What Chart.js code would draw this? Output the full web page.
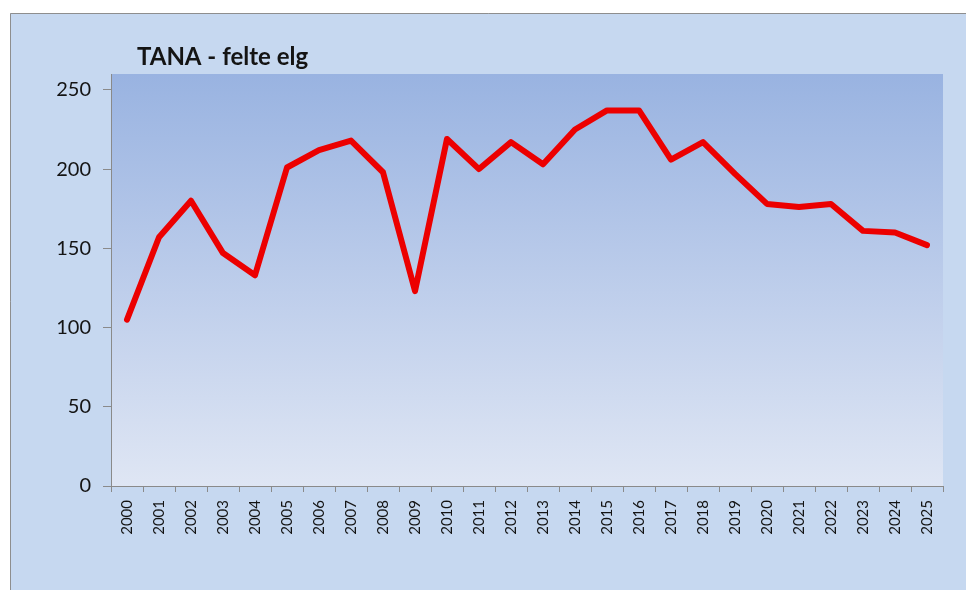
<!DOCTYPE html>
<html>
<head>
<meta charset="utf-8">
<script src="https://cdn.jsdelivr.net/npm/chart.js@4.4.1/dist/chart.umd.min.js"></script>
<style>
  html, body { margin: 0; padding: 0; background: #ffffff; }
  #wrap { width: 966px; height: 590px; position: relative; }
</style>
</head>
<body>
<div id="wrap"><canvas id="c" width="966" height="590"></canvas></div>
<script>
// ---- data ----
const titleText = 'TANA - felte elg';
const years = ['2000','2001','2002','2003','2004','2005','2006','2007','2008','2009',
               '2010','2011','2012','2013','2014','2015','2016','2017','2018','2019',
               '2020','2021','2022','2023','2024','2025'];
const felteElg = [105,157,180,147,133,201,212,218,198,123,
                  219,200,217,203,225,237,237,206,217,197,
                  178,176,178,161,160,152];
const yTicks = [0, 50, 100, 150, 200, 250];
const yMax = 260;

// ---- styling ----
const textColor = '#141414';
const axisColor = '#8a8a8a';

const backgroundPlugin = {
  id: 'backgrounds',
  beforeDraw(chart) {
    const ctx = chart.ctx;
    const W = chart.width, H = chart.height;
    const a = chart.chartArea;
    ctx.save();
    ctx.fillStyle = '#ffffff';
    ctx.fillRect(0, 0, W, H);
    // outer chart container
    ctx.fillStyle = '#c6d8f0';
    ctx.fillRect(10, 13, W - 10, H - 13);
    ctx.strokeStyle = '#8e8e8e';
    ctx.lineWidth = 1;
    ctx.beginPath();
    ctx.moveTo(10.5, H);
    ctx.lineTo(10.5, 13.5);
    ctx.lineTo(W, 13.5);
    ctx.stroke();
    // plot area gradient
    const g = ctx.createLinearGradient(0, a.top, 0, a.bottom);
    g.addColorStop(0, '#99b3e1');
    g.addColorStop(1, '#dfe6f4');
    ctx.fillStyle = g;
    ctx.fillRect(a.left, a.top, a.right - a.left, a.bottom - a.top);
    ctx.restore();
  },
  afterDraw(chart) {
    const ctx = chart.ctx;
    ctx.save();
    ctx.fillStyle = textColor;
    ctx.font = 'bold 24px Lato';
    ctx.textAlign = 'left';
    ctx.textBaseline = 'alphabetic';
    ctx.fillText(titleText, 137, 65);
    ctx.restore();
  }
};

new Chart(document.getElementById('c'), {
  type: 'line',
  data: {
    labels: years,
    datasets: [{
      label: 'Felte elg',
      data: felteElg,
      borderColor: '#ec0000',
      borderWidth: 6,
      pointRadius: 0,
      pointHoverRadius: 0,
      tension: 0,
      borderJoinStyle: 'round',
      borderCapStyle: 'round',
      fill: false
    }]
  },
  options: {
    responsive: false,
    animation: false,
    events: [],
    layout: { padding: { left: 0, top: 74, right: 23, bottom: 0 } },
    plugins: {
      legend: { display: false },
      title: { display: false },
      tooltip: { enabled: false }
    },
    scales: {
      x: {
        type: 'category',
        offset: true,
        grid: {
          display: true,
          offset: true,
          drawOnChartArea: false,
          drawTicks: true,
          tickLength: 6,
          color: axisColor
        },
        border: { display: true, color: axisColor, width: 1 },
        ticks: {
          autoSkip: false,
          minRotation: 90,
          maxRotation: 90,
          padding: 8,
          color: textColor,
          font: { family: 'Lato', size: 15 }
        },
        afterFit(scale) { scale.height = 104; }
      },
      y: {
        min: 0,
        max: yMax,
        grid: {
          display: true,
          drawOnChartArea: false,
          drawTicks: true,
          tickLength: 8,
          color: axisColor
        },
        border: { display: true, color: axisColor, width: 1 },
        ticks: {
          padding: 12,
          color: textColor,
          font: { family: 'Lato', size: 20 }
        },
        afterBuildTicks(scale) { scale.ticks = yTicks.map(v => ({ value: v })); },
        afterFit(scale) { scale.width = 111; }
      }
    }
  },
  plugins: [backgroundPlugin]
});
</script>
</body>
</html>
